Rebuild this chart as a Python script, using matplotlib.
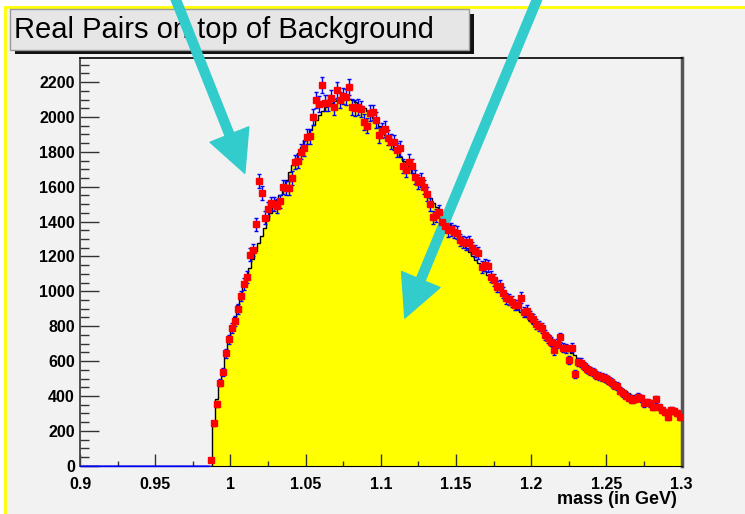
import numpy as np
import matplotlib
matplotlib.use("Agg")
import matplotlib.pyplot as plt
from matplotlib.patches import Rectangle

plt.rcParams['font.family'] = ['Liberation Sans', 'DejaVu Sans']

# histogram binning: 200 bins, 0.9 -> 1.3 GeV
x_lo, x_hi, n_bins = 0.9, 1.3, 200
n_empty = 43  # empty bins below threshold

# real pairs (data points), bins 0.987 ... 1.299
data_counts = [
    33, 243, 354, 476, 539, 644, 725, 791, 830, 898,
    973, 1042, 1082, 1211, 1237, 1384, 1632, 1566, 1422, 1473,
    1504, 1500, 1490, 1516, 1600, 1590, 1593, 1652, 1741, 1747,
    1800, 1820, 1886, 1890, 2001, 2097, 2072, 2183, 2078, 2081,
    2107, 2058, 2154, 2097, 2120, 2116, 2173, 2058, 2050, 2058,
    2044, 1972, 1950, 2021, 2026, 1982, 1896, 1921, 1931, 1880,
    1858, 1854, 1810, 1820, 1718, 1696, 1743, 1718, 1657, 1628,
    1638, 1600, 1556, 1499, 1424, 1437, 1456, 1400, 1375, 1351,
    1356, 1342, 1336, 1294, 1284, 1275, 1281, 1247, 1230, 1218,
    1141, 1150, 1145, 1084, 1065, 1026, 1030, 992, 960, 954,
    940, 921, 921, 963, 883, 889, 860, 839, 812, 800,
    788, 749, 730, 711, 663, 700, 736, 677, 673, 606,
    677, 528, 596, 591, 572, 555, 545, 536, 522, 517,
    510, 504, 492, 480, 463, 457, 430, 415, 400, 390,
    377, 385, 396, 387, 358, 365, 358, 338, 381, 338,
    319, 310, 281, 319, 315, 300, 281,
]

# background (yellow histogram), same bins
bkg_counts = [
    0, 245, 380, 470, 555, 640, 720, 790, 855, 920,
    980, 1035, 1085, 1135, 1185, 1230, 1275, 1320, 1365, 1410,
    1450, 1490, 1525, 1555, 1595, 1640, 1685, 1722, 1760, 1795,
    1830, 1865, 1895, 1925, 1955, 1985, 2010, 2035, 2055, 2070,
    2082, 2092, 2100, 2105, 2107, 2106, 2103, 2097, 2088, 2077,
    2064, 2049, 2032, 2013, 1992, 1970, 1947, 1922, 1897, 1872,
    1847, 1822, 1797, 1773, 1749, 1725, 1701, 1677, 1653, 1629,
    1605, 1581, 1557, 1533, 1509, 1485, 1461, 1438, 1414, 1390,
    1366, 1343, 1320, 1297, 1274, 1251, 1228, 1205, 1182, 1160,
    1138, 1116, 1094, 1073, 1052, 1032, 1012, 993, 974, 955,
    937, 919, 901, 884, 867, 851, 835, 819, 804, 789,
    775, 761, 747, 734, 721, 708, 696, 684, 672, 660,
    646, 632, 618, 604, 590, 577, 564, 551, 539, 527,
    516, 505, 494, 483, 472, 461, 450, 439, 428, 417,
    404, 393, 383, 374, 365, 357, 349, 341, 334, 327,
    321, 315, 309, 303, 297, 291, 285,
]

xtick_vals = [0.9, 0.95, 1.0, 1.05, 1.1, 1.15, 1.2, 1.25, 1.3]
xtick_labels = ["0.9", "0.95", "1", "1.05", "1.1", "1.15", "1.2", "1.25", "1.3"]
ytick_vals = list(range(0, 2201, 200))

title = "Real Pairs on top of Background"
xlabel = "mass (in GeV)"

W, H = 745, 514
edges = np.linspace(x_lo, x_hi, n_bins + 1)
centers = 0.5 * (edges[:-1] + edges[1:])
half_w = 0.5 * (edges[1] - edges[0])
data = np.array([0] * n_empty + data_counts, dtype=float)
bkg = np.array([0] * n_empty + bkg_counts, dtype=float)

fig = plt.figure(figsize=(W / 100, H / 100), dpi=100)
fig.patch.set_facecolor("white")

# canvas with yellow border (only top and left edges fall inside the picture)
fig.add_artist(Rectangle((5 / W, -0.2), 1.2, 1 - 7 / H + 0.2, transform=fig.transFigure,
                         facecolor="#f2f2f2", edgecolor="#ffff00", lw=2, zorder=-10))

# title box with shadow
fig.add_artist(Rectangle((15 / W, 1 - 54 / H), 459 / W, 40 / H, transform=fig.transFigure,
                         facecolor="#111111", edgecolor="none", zorder=1))
fig.add_artist(Rectangle((9.5 / W, 1 - 49.5 / H), 459 / W, 40 / H, transform=fig.transFigure,
                         facecolor="#e6e6e6", edgecolor="#9a9a9a", lw=1, zorder=1.1))
fig.text(14 / W, 1 - 29.5 / H, title, fontsize=21, ha="left", va="center", zorder=1.2)

ax = fig.add_axes([80 / W, 1 - 465.7 / H, 601.5 / W, 407.7 / H])
ax.set_zorder(2)
ax.set_facecolor("#f2f2f2")

ax.stairs(bkg, edges, fill=True, facecolor="#ffff00", zorder=1)
ax.stairs(bkg, edges, color="black", lw=1, zorder=2)

ax.errorbar(centers, data, xerr=half_w, fmt="none", ecolor="#0000ff", elinewidth=1,
            capsize=0, zorder=3, clip_on=False)
ax.errorbar(centers, data, yerr=np.sqrt(data), fmt="none", ecolor="#0000ff", elinewidth=1,
            capsize=1.6, capthick=1, zorder=3)
nz = data > 0
ax.plot(centers[nz], data[nz], "s", color="#ff0000", mec="#ff0000", ms=5, zorder=4)

ax.set_xlim(x_lo, x_hi)
ax.set_ylim(0, 2338)
ax.set_xticks(xtick_vals)
ax.set_xticklabels(xtick_labels)
ax.set_xticks(np.arange(0.925, 1.3, 0.05), minor=True)
ax.set_yticks(ytick_vals)
ax.set_yticks(np.arange(50, 2338, 50), minor=True)

ax.tick_params(axis="y", which="major", direction="in", length=13.7, width=1, color="#333333", pad=3.6)
ax.tick_params(axis="y", which="minor", direction="in", length=6.7, width=1, color="#333333")
ax.tick_params(axis="x", which="major", direction="in", length=8.4, width=1, color="#333333", pad=8)
ax.tick_params(axis="x", which="minor", direction="in", length=3.6, width=1, color="#333333")
for lab in ax.get_xticklabels() + ax.get_yticklabels():
    lab.set_fontweight("bold")
    lab.set_fontsize(11.5)

ax.set_xlabel(xlabel, fontsize=13, fontweight="bold", ha="right", va="center")
ax.xaxis.set_label_coords(0.9925, -0.084)

ax.spines["left"].set_color("#444444")
ax.spines["left"].set_linewidth(1.3)
ax.spines["bottom"].set_color("black")
ax.spines["top"].set_color("black")
ax.spines["top"].set_linewidth(1.2)
ax.spines["right"].set_color("#555555")
ax.spines["right"].set_linewidth(2.5)

# cyan arrows
arrow_kw = dict(width=6.5, headwidth=30, headlength=30, shrink=0, color="#33cccc", clip_on=False)
ax.annotate("", xy=(1.0096, 1677), xycoords="data", xytext=(172 / W, 1 + 10 / H),
            textcoords="figure fraction", arrowprops=arrow_kw, annotation_clip=False)
ax.annotate("", xy=(1.116, 847), xycoords="data", xytext=(541 / W, 1 + 10 / H),
            textcoords="figure fraction", arrowprops=arrow_kw, annotation_clip=False)

fig.savefig("out.png", dpi=100)
